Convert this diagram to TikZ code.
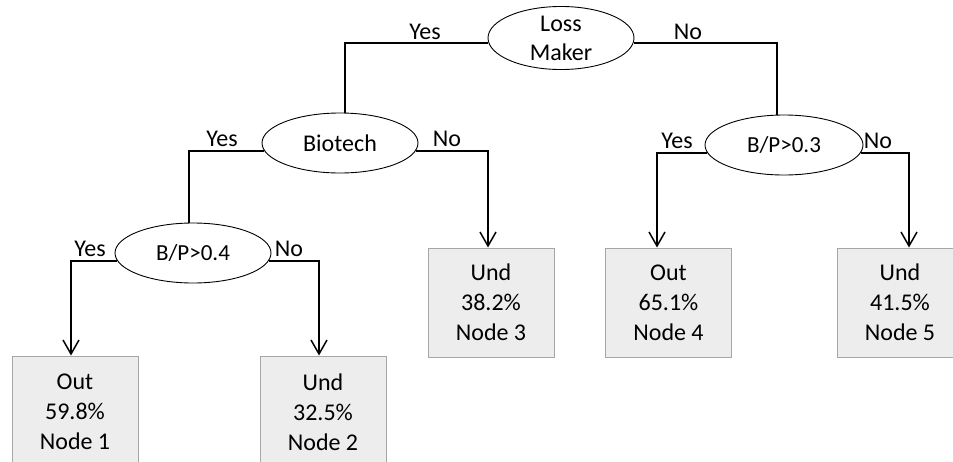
\documentclass[tikz,border=0pt]{standalone}
\usepackage{fontspec}
\setmainfont{Carlito}
\usetikzlibrary{shapes.geometric,arrows.meta}

\tikzset{
  decision/.style={ellipse, draw=black, line width=0.9pt, inner sep=0pt,
    align=center, font=\fontsize{24}{30}\selectfont},
  leaf/.style={rectangle, draw=leafborder, fill=leaffill, line width=1pt,
    minimum width=126pt, minimum height=109pt, inner sep=0pt,
    align=center, font=\fontsize{24}{30}\selectfont},
  branch/.style={draw=black, line width=1.5pt},
  down/.style={branch, -{Straight Barb[length=14pt,width=16pt]}},
  answer/.style={anchor=base, inner sep=0pt, font=\fontsize{24}{30}\selectfont},
}
\definecolor{leaffill}{HTML}{EDEDED}
\definecolor{leafborder}{HTML}{A6A6A6}

\begin{document}
\begin{tikzpicture}[x=1pt, y=-1pt]
  \useasboundingbox (0,0) rectangle (953,461);
  \clip (0,0) rectangle (953,461);

  % decision nodes
  \node[decision, minimum width=146pt, minimum height=61pt] (lm) at (561,38) {Loss\\[-1pt]Maker};
  \node[decision, minimum width=156pt, minimum height=60pt] (bt) at (340,143) {Biotech};
  \node[decision, minimum width=156pt, minimum height=60pt,
        font=\fontsize{23}{27}\selectfont] (bp4) at (193,253) {B/P>0.4};
  \node[decision, minimum width=158pt, minimum height=60pt,
        font=\fontsize{23}{27}\selectfont] (bp3) at (784,145) {B/P>0.3};

  % leaf boxes
  \node[leaf, minimum height=112pt] (n1) at (75,412)  {Out\\59.8\%\\Node 1};
  \node[leaf, minimum height=112pt] (n2) at (323,412) {Und\\32.5\%\\Node 2};
  \node[leaf] (n3) at (491,302.5) {Und\\38.2\%\\Node 3};
  \node[leaf] (n4) at (668.5,302.5) {Out\\65.1\%\\Node 4};
  \node[leaf] (n5) at (900,302.5) {Und\\41.5\%\\Node 5};

  % branches from the root
  \draw[branch] (lm.184) -| ([xshift=5pt]bt.north);
  \draw[branch] (lm.356) -| ([xshift=-7pt]bp3.north);

  % branches from Biotech
  \draw[branch] (bt.186) -| ([xshift=-4pt]bp4.north);
  \draw[down] (bt.354) -| ([xshift=-3pt]n3.north);

  % branches from B/P>0.4
  \draw[down] (bp4.186) -| ([xshift=-4pt]n1.north);
  \draw[down] (bp4.354) -| ([xshift=-4pt]n2.north);

  % branches from B/P>0.3
  \draw[down] (bp3.186) -| ([xshift=-11.5pt]n4.north);
  \draw[down] (bp3.354) -| ([xshift=9pt]n5.north);

  % branch answers
  \node[answer] (y0) at (425,39)  {Yes};
  \node[answer] (n0) at (688,39)  {No};
  \node[answer] (y1) at (222,146) {Yes};
  \node[answer] (m1) at (447,146) {No};
  \node[answer] (y2) at (90,256)  {Yes};
  \node[answer] (m2) at (289,256) {No};
  \node[answer] (y3) at (677,148) {Yes};
  \node[answer] (m3) at (878,148) {No};
\end{tikzpicture}
\end{document}
